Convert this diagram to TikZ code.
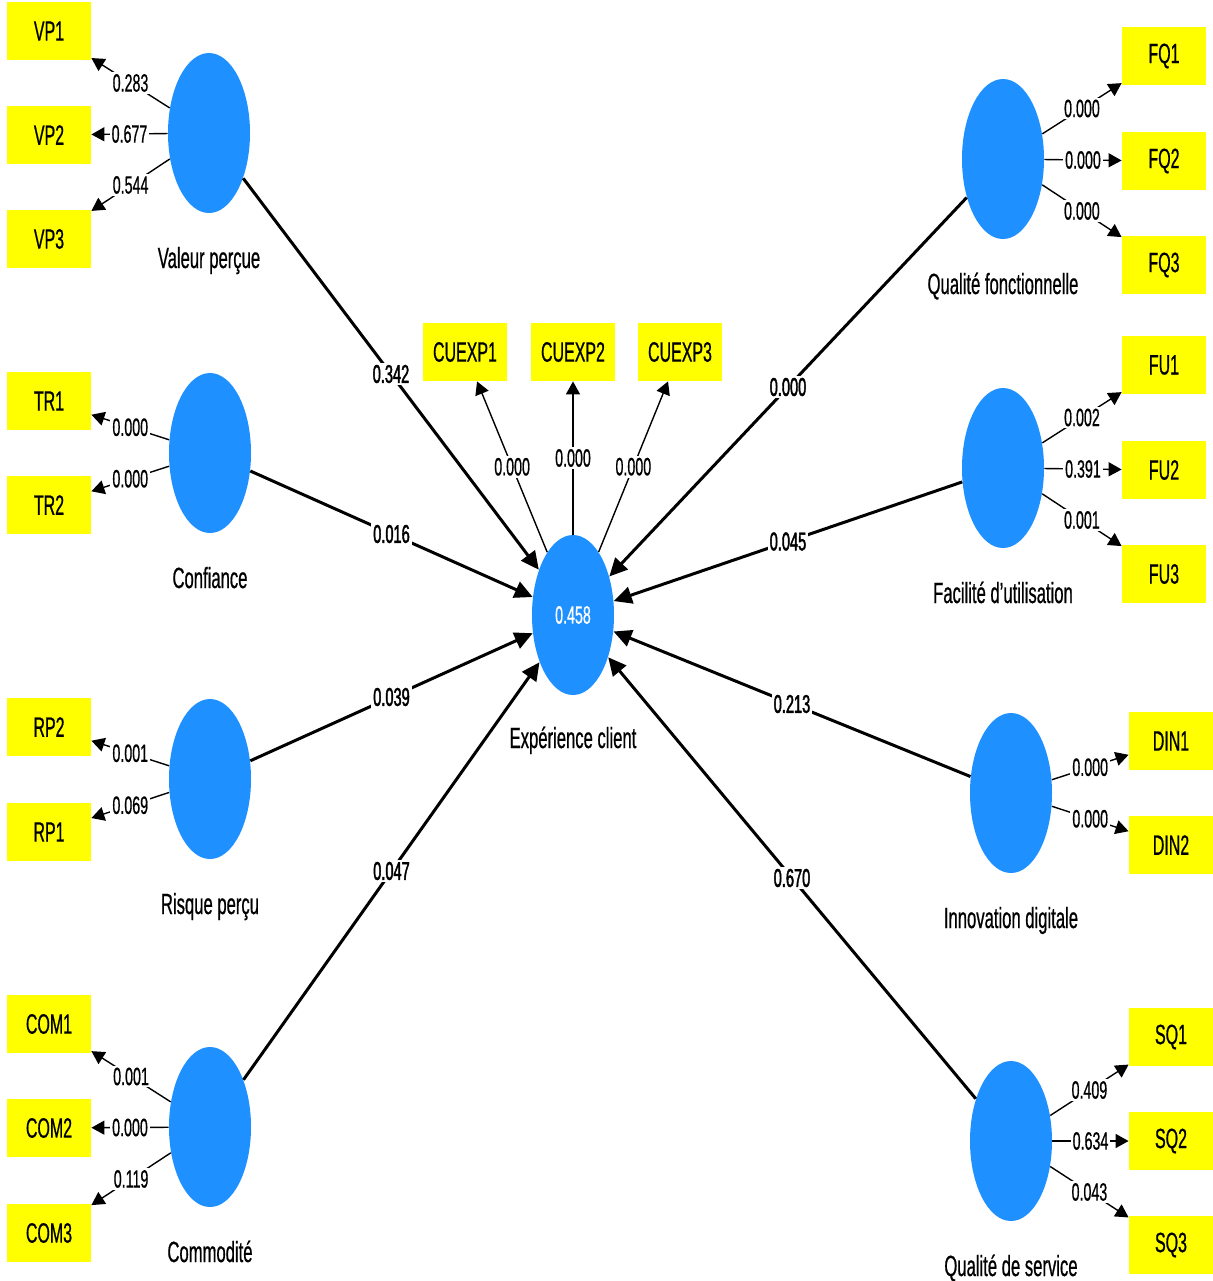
\documentclass[tikz,border=0pt]{standalone}
\usepackage{fontspec}
\setmainfont{Liberation Sans}[FakeStretch=0.57,FakeBold=0.6]
\newfontfamily\boldish{Liberation Sans}[FakeStretch=0.57,FakeBold=1.6]
\usetikzlibrary{arrows.meta,shapes.geometric}
\definecolor{lvblue}{RGB}{30,144,255}
\definecolor{mvyellow}{RGB}{255,255,0}
\begin{document}
\begin{tikzpicture}[x=0.5pt,y=-0.5pt,
 lv/.style={ellipse, fill=lvblue, minimum width=41pt, minimum height=80pt, inner sep=0pt},
 mv/.style={rectangle, fill=mvyellow, minimum width=42pt, minimum height=29pt, inner sep=0pt, font=\fontsize{14}{16}\selectfont},
 lvname/.style={anchor=base, font=\fontsize{14.6}{17}\selectfont},
 coef/.style={fill=white, inner sep=1pt, font=\fontsize{12.5}{14}\selectfont},
 pcoef/.style={fill=white, inner sep=1pt, font=\boldish\fontsize{12.8}{14}\selectfont},
 loadline/.style={line width=0.7pt, -{Triangle[length=6.5pt,width=7pt]}},
 pathline/.style={line width=1.5pt, -{Triangle[length=9pt,width=8.5pt]}},
]
\useasboundingbox[fill=white] (0,0) rectangle (1212,1281);

% latent variables
\node[lv] (VPl) at (209,133) {};
\node[lv] (TRl) at (210,453) {};
\node[lv] (RPl) at (210,779) {};
\node[lv] (COMl) at (210,1127) {};
\node[lv, text=white, font=\fontsize{12.5}{14}\selectfont] (CE) at (573,615) {0.458};
\node[lv] (FQl) at (1003,159) {};
\node[lv] (FUl) at (1003,468) {};
\node[lv] (DINl) at (1011,793) {};
\node[lv] (SQl) at (1011,1141) {};

% latent names
\node[lvname] (nVP) at (209,268) {Valeur perçue};
\node[lvname] (nTR) at (210,588) {Confiance};
\node[lvname] (nRP) at (210,914) {Risque perçu};
\node[lvname] (nCOM) at (210,1262) {Commodité};
\node[lvname] (nCE) at (573,748) {Expérience client};
\node[lvname] (nFQ) at (1003,294) {Qualité fonctionnelle};
\node[lvname] (nFU) at (1003,603) {Facilité d'utilisation};
\node[lvname] (nDIN) at (1011,928) {Innovation digitale};
\node[lvname] (nSQ) at (1011,1276) {Qualité de service};

% indicators
\node[mv] (VP1) at (49,31) {VP1};
\node[mv] (VP2) at (49,135) {VP2};
\node[mv] (VP3) at (49,239) {VP3};
\node[mv] (TR1) at (49,401) {TR1};
\node[mv] (TR2) at (49,505) {TR2};
\node[mv] (RP2) at (49,727) {RP2};
\node[mv] (RP1) at (49,832) {RP1};
\node[mv] (COM1) at (49,1024) {COM1};
\node[mv] (COM2) at (49,1128) {COM2};
\node[mv] (COM3) at (49,1233) {COM3};
\node[mv] (CU1) at (465,352) {CUEXP1};
\node[mv] (CU2) at (573,352) {CUEXP2};
\node[mv] (CU3) at (680,352) {CUEXP3};
\node[mv] (FQ1) at (1164,56) {FQ1};
\node[mv] (FQ2) at (1164,161) {FQ2};
\node[mv] (FQ3) at (1164,265) {FQ3};
\node[mv] (FU1) at (1164,365) {FU1};
\node[mv] (FU2) at (1164,470) {FU2};
\node[mv] (FU3) at (1164,574) {FU3};
\node[mv] (DIN1) at (1171,741) {DIN1};
\node[mv] (DIN2) at (1171,845) {DIN2};
\node[mv] (SQ1) at (1171,1037) {SQ1};
\node[mv] (SQ2) at (1171,1141) {SQ2};
\node[mv] (SQ3) at (1171,1245) {SQ3};

% loadings
\draw[loadline] (VPl) -- node[coef]{0.283} (VP1);
\draw[loadline] (VPl) -- node[coef]{0.677} (VP2);
\draw[loadline] (VPl) -- node[coef]{0.544} (VP3);
\draw[loadline] (TRl) -- node[coef]{0.000} (TR1);
\draw[loadline] (TRl) -- node[coef]{0.000} (TR2);
\draw[loadline] (RPl) -- node[coef]{0.001} (RP2);
\draw[loadline] (RPl) -- node[coef]{0.069} (RP1);
\draw[loadline] (COMl) -- node[coef]{0.001} (COM1);
\draw[loadline] (COMl) -- node[coef]{0.000} (COM2);
\draw[loadline] (COMl) -- node[coef]{0.119} (COM3);
\draw[loadline] (CE) -- node[coef]{0.000} (CU1);
\draw[loadline] (CE) -- node[coef]{0.000} (CU2);
\draw[loadline] (CE) -- node[coef]{0.000} (CU3);
\draw[loadline] (FQl) -- node[coef]{0.000} (FQ1);
\draw[loadline] (FQl) -- node[coef]{0.000} (FQ2);
\draw[loadline] (FQl) -- node[coef]{0.000} (FQ3);
\draw[loadline] (FUl) -- node[coef]{0.002} (FU1);
\draw[loadline] (FUl) -- node[coef]{0.391} (FU2);
\draw[loadline] (FUl) -- node[coef]{0.001} (FU3);
\draw[loadline] (DINl) -- node[coef]{0.000} (DIN1);
\draw[loadline] (DINl) -- node[coef]{0.000} (DIN2);
\draw[loadline] (SQl) -- node[coef]{0.409} (SQ1);
\draw[loadline] (SQl) -- node[coef]{0.634} (SQ2);
\draw[loadline] (SQl) -- node[coef]{0.043} (SQ3);

% structural paths
\draw[pathline] (VPl) -- node[pcoef]{0.342} (CE);
\draw[pathline] (TRl) -- node[pcoef]{0.016} (CE);
\draw[pathline] (RPl) -- node[pcoef]{0.039} (CE);
\draw[pathline] (COMl) -- node[pcoef]{0.047} (CE);
\draw[pathline] (FQl) -- node[pcoef]{0.000} (CE);
\draw[pathline] (FUl) -- node[pcoef]{0.045} (CE);
\draw[pathline] (DINl) -- node[pcoef]{0.213} (CE);
\draw[pathline] (SQl) -- node[pcoef]{0.670} (CE);
\end{tikzpicture}
\end{document}
